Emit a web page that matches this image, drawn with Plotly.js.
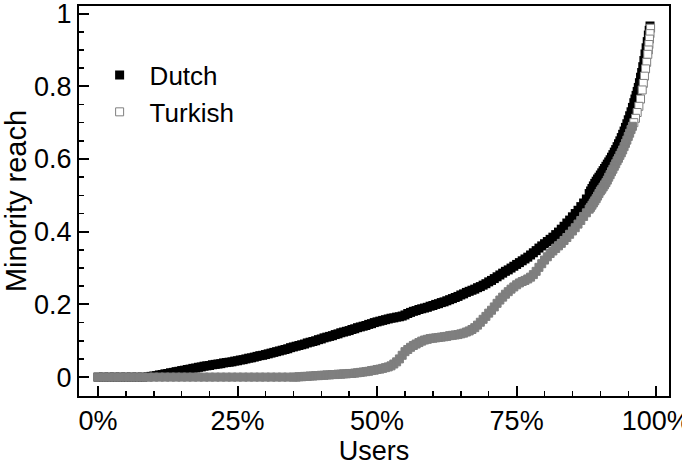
<!DOCTYPE html>
<html>
<head>
<meta charset="utf-8">
<script src="https://cdn.plot.ly/plotly-3.0.1.min.js"></script>
<style>html,body{margin:0;padding:0;background:#fff;}#chart{width:682px;height:466px;}</style>
</head>
<body>
<div id="chart"></div>
<script>
// Users percentile (%) and minority reach
var dutchX = [0,1,2,3,4,5,6,7,8,9,9.5,
  10,10.5,11,11.5,12,12.5,13,13.5,14,14.5,15,15.5,16,16.5,17,17.5,18,18.5,19,19.5,
  20,20.5,21,21.5,22,22.5,23,23.5,24,24.5,25,25.5,26,26.5,27,27.5,28,28.5,29,29.5,
  30,30.5,31,31.5,32,32.5,33,33.5,34,34.5,35,35.5,36,36.5,37,37.5,38,38.5,39,39.5,
  40,40.5,41,41.5,42,42.5,43,43.5,44,44.5,45,45.5,46,46.5,47,47.5,48,48.5,49,49.5,
  50,50.5,51,51.5,52,52.5,53,53.5,54,54.5,55,55.5,56,56.5,57,57.5,58,58.5,59,59.5,
  60,60.5,61,61.5,62,62.5,63,63.5,64,64.5,65,65.5,66,66.5,67,67.5,68,68.5,69,69.5,
  70,70.5,71,71.5,72,72.5,73,73.5,74,74.5,75,75.5,76,76.5,77,77.5,78,78.5,79,79.5,
  80,80.5,81,81.5,82,82.5,83,83.5,84,84.5,85,85.5,86,86.5,87,87.5,88,
  88.25,88.5,88.75,89,89.25,89.5,89.75,90,90.25,90.5,90.75,91,91.25,91.5,91.75,92,
  92.25,92.5,92.75,93,93.25,93.5,93.75,94,94.25,94.5,94.75,95,95.25,95.5,95.75,96,
  96.2,96.4,96.6,96.8,97,97.2,97.4,97.6,97.8,98,98.2,98.4,98.6,98.75,98.9];
var dutchY = [0,0,0,0,0,0,0,0,0,0.001,0.002,
  0.003,0.004,0.006,0.007,0.009,0.010,0.012,0.013,0.015,0.016,0.018,0.019,0.021,0.022,0.024,0.025,0.027,0.028,0.030,0.031,
  0.032,0.034,0.035,0.036,0.037,0.039,0.040,0.041,0.042,0.044,0.045,0.047,0.048,0.050,0.052,0.053,0.055,0.057,0.059,0.060,
  0.062,0.064,0.066,0.068,0.070,0.072,0.074,0.076,0.078,0.081,0.083,0.085,0.087,0.089,0.091,0.094,0.096,0.098,0.100,0.103,
  0.105,0.108,0.110,0.112,0.114,0.117,0.119,0.122,0.124,0.126,0.128,0.131,0.133,0.136,0.138,0.140,0.142,0.145,0.147,0.150,
  0.152,0.154,0.156,0.158,0.160,0.162,0.163,0.165,0.166,0.168,0.171,0.175,0.178,0.181,0.183,0.186,0.188,0.190,0.192,0.195,
  0.197,0.200,0.202,0.205,0.207,0.210,0.213,0.216,0.219,0.222,0.226,0.229,0.233,0.236,0.239,0.242,0.246,0.249,0.253,0.257,
  0.262,0.266,0.271,0.276,0.281,0.286,0.291,0.295,0.300,0.305,0.310,0.315,0.320,0.325,0.330,0.336,0.342,0.348,0.355,0.361,
  0.367,0.373,0.379,0.385,0.392,0.399,0.407,0.415,0.424,0.432,0.441,0.450,0.459,0.469,0.479,0.490,0.505,
  0.512,0.519,0.526,0.533,0.539,0.545,0.550,0.556,0.562,0.568,0.574,0.580,0.586,0.592,0.598,0.605,
  0.612,0.619,0.626,0.634,0.642,0.650,0.659,0.668,0.677,0.687,0.697,0.708,0.719,0.730,0.742,0.755,
  0.765,0.775,0.786,0.797,0.810,0.825,0.838,0.854,0.871,0.889,0.906,0.923,0.941,0.954,0.966];
var turkishX = [0,1,2,3,4,5,6,7,8,9,10,11,12,13,14,15,16,17,18,19,20,21,22,23,24,25,26,27,28,29,
  30,31,32,33,34,35,35.5,36,36.5,37,37.5,38,38.5,39,39.5,
  40,40.5,41,41.5,42,42.5,43,43.5,44,44.5,45,45.5,46,46.5,47,47.5,48,48.5,49,49.5,
  50,50.5,51,51.5,52,52.5,53,53.5,54,54.5,55,55.5,56,56.5,57,57.5,58,58.5,59,59.5,
  60,60.5,61,61.5,62,62.5,63,63.5,64,64.5,65,65.5,66,66.5,67,67.5,68,68.5,69,69.5,
  70,70.5,71,71.5,72,72.5,73,73.5,74,74.5,75,75.5,76,76.5,77,77.5,78,78.5,79,79.5,
  80,80.5,81,81.5,82,82.5,83,83.5,84,84.5,85,85.5,86,86.5,87,87.5,88,
  88.25,88.5,88.75,89,89.25,89.5,89.75,90,90.25,90.5,90.75,91,91.25,91.5,91.75,92,
  92.25,92.5,92.75,93,93.25,93.5,93.75,94,94.25,94.5,94.75,95,95.25,95.5,95.75,96,
  96.3,96.6,96.9,97.2,97.5,97.7,97.9,98.1,98.3,98.5,98.6,98.7,98.8,98.9,99.0];
var turkishY = [0,0,0,0,0,0,0,0,0,0,0,0,0,0,0,0,0,0,0,0,0,0,0,0,0,0,0,0,0,0,
  0,0,0,0,0,0,0,0.001,0.001,0.002,0.002,0.003,0.003,0.004,0.004,
  0.005,0.005,0.006,0.006,0.007,0.007,0.008,0.008,0.009,0.009,0.010,0.010,0.011,0.012,0.013,0.014,0.015,0.016,0.018,0.019,
  0.021,0.022,0.024,0.026,0.028,0.031,0.036,0.042,0.050,0.060,0.070,0.076,0.082,0.087,0.091,0.095,0.099,0.102,0.104,0.106,
  0.107,0.108,0.109,0.110,0.111,0.112,0.114,0.115,0.116,0.117,0.119,0.121,0.124,0.127,0.131,0.136,0.143,0.151,0.159,0.167,
  0.176,0.184,0.193,0.203,0.212,0.220,0.228,0.235,0.242,0.248,0.254,0.259,0.263,0.266,0.270,0.275,0.282,0.291,0.302,0.312,
  0.322,0.331,0.340,0.347,0.354,0.361,0.368,0.376,0.384,0.393,0.402,0.411,0.421,0.431,0.442,0.452,0.462,
  0.467,0.473,0.479,0.485,0.491,0.498,0.505,0.512,0.517,0.523,0.529,0.535,0.542,0.550,0.557,0.565,
  0.572,0.580,0.587,0.595,0.602,0.610,0.617,0.625,0.634,0.643,0.652,0.662,0.671,0.681,0.690,0.700,
  0.712,0.728,0.745,0.765,0.790,0.808,0.828,0.848,0.866,0.888,0.900,0.915,0.930,0.945,0.960];
var seriesNames = ['Dutch', 'Turkish'];
var xTickVals = [0, 25, 50, 75, 100];
var xTickText = ['0%', '25%', '50%', '75%', '100%'];
var yTickVals = [0, 0.2, 0.4, 0.6, 0.8, 1];
var yTickText = ['0', '0.2', '0.4', '0.6', '0.8', '1'];

var GRAY = '#7f7f7f';
// Turkish drawn from the top down so the legend shows the open (white) square
var tX = turkishX.slice().reverse();
var tY = turkishY.slice().reverse();
var tFill = tY.map(function (v) { return v >= 0.7 ? '#ffffff' : GRAY; });

var font = 'Liberation Sans, Arial, Helvetica, sans-serif';

var traces = [
  {
    x: dutchX, y: dutchY, name: seriesNames[0], type: 'scatter', mode: 'markers',
    marker: {symbol: 'square', size: 9, color: '#000000', line: {width: 0}},
    hoverinfo: 'skip'
  },
  {
    x: tX, y: tY, name: seriesNames[1], type: 'scatter', mode: 'markers',
    marker: {symbol: 'square', size: 8, color: tFill, line: {width: 1, color: GRAY}},
    hoverinfo: 'skip'
  }
];

var layout = {
  width: 682, height: 466,
  margin: {l: 79, r: 13, t: 6, b: 70, pad: 0},
  paper_bgcolor: '#ffffff', plot_bgcolor: '#ffffff',
  font: {family: font, size: 27, color: '#000'},
  showlegend: true,
  legend: {
    x: 0.018, y: 0.883, xanchor: 'left', yanchor: 'top',
    bgcolor: 'rgba(0,0,0,0)', borderwidth: 0, itemwidth: 50,
    font: {family: font, size: 26, color: '#000'}
  },
  xaxis: {
    range: [-3.4, 102.3], tickmode: 'array', tickvals: xTickVals, ticktext: xTickText,
    ticks: 'inside', ticklen: 10, tickwidth: 2, tickcolor: '#000',
    ticklabeloverflow: 'allow', ticklabelstandoff: 0,
    minor: {dtick: 5, tick0: 0, ticks: 'inside', ticklen: 5, tickwidth: 1.5, tickcolor: '#000', showgrid: false},
    showline: true, linewidth: 2, linecolor: '#000', mirror: true,
    showgrid: false, zeroline: false,
    tickfont: {family: font, size: 27, color: '#000'},
    title: {text: 'Users', font: {family: font, size: 27, color: '#000'}, standoff: 5}
  },
  yaxis: {
    range: [-0.052, 1.021], tickmode: 'array', tickvals: yTickVals, ticktext: yTickText,
    ticks: 'inside', ticklen: 10, tickwidth: 2, tickcolor: '#000',
    ticklabeloverflow: 'allow',
    minor: {dtick: 0.05, tick0: 0, ticks: 'inside', ticklen: 5, tickwidth: 1.5, tickcolor: '#000', showgrid: false},
    showline: true, linewidth: 2, linecolor: '#000', mirror: true,
    showgrid: false, zeroline: false,
    tickfont: {family: font, size: 27, color: '#000'},
    title: {text: 'Minority reach', font: {family: font, size: 29, color: '#000'}, standoff: 0}
  }
};

Plotly.newPlot('chart', traces, layout, {staticPlot: true, displayModeBar: false});
</script>
</body>
</html>
